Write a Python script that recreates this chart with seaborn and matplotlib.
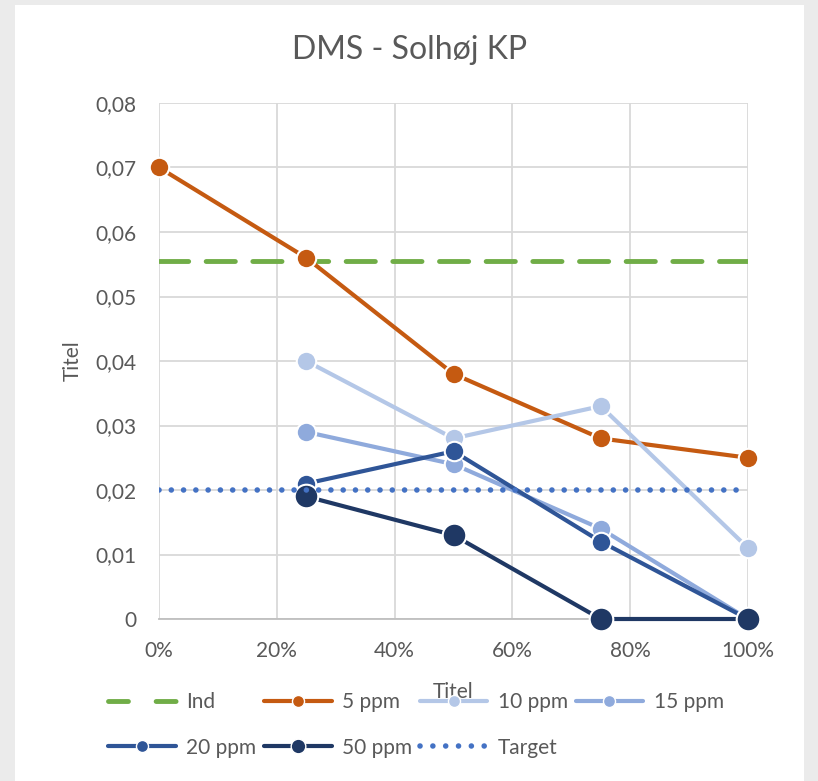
import matplotlib
matplotlib.use("Agg")
import matplotlib.pyplot as plt
from matplotlib.lines import Line2D
from matplotlib.patches import Rectangle
from matplotlib.ticker import FuncFormatter, MultipleLocator
import seaborn as sns
import pandas as pd

# ---- data ----
x_all = [0.0, 0.25, 0.5, 0.75, 1.0]
x_sub = [0.25, 0.5, 0.75, 1.0]
ind_value = 0.0555
target_value = 0.02
s5 = [0.070, 0.056, 0.038, 0.028, 0.025]
s10 = [0.040, 0.028, 0.033, 0.011]
s15 = [0.029, 0.024, 0.014, 0.000]
s20 = [0.021, 0.026, 0.012, 0.000]
s50 = [0.019, 0.013, 0.000, 0.000]
title = "DMS - Solhøj KP"
x_label = "Titel"
y_label = "Titel"

sns.set_theme(style="white")
plt.rcParams['font.family'] = ['Lato', 'DejaVu Sans']
txt = "#595959"

fig = plt.figure(figsize=(8.18, 7.81), dpi=100, facecolor="#ebebeb")
fig.patches.append(Rectangle((15 / 818, 0), (804 - 15) / 818, (781 - 5) / 781,
                             transform=fig.transFigure, facecolor="white",
                             edgecolor="none", zorder=-10))
ax = fig.add_axes([159 / 818, 1 - 619 / 781, (748 - 159) / 818, (619 - 103) / 781])
ax.set_zorder(2)
ax.set_facecolor("white")

series = [
    ("5 ppm", x_all, s5, "#C55A11", 14),
    ("10 ppm", x_sub, s10, "#B4C7E7", 14),
    ("15 ppm", x_sub, s15, "#8FAADC", 14),
    ("20 ppm", x_sub, s20, "#2F5597", 14),
    ("50 ppm", x_sub, s50, "#1F3864", 17),
]

ind_df = pd.DataFrame({"x": x_all, "y": [ind_value] * len(x_all)})
tgt_df = pd.DataFrame({"x": x_all, "y": [target_value] * len(x_all)})

sns.lineplot(data=ind_df, x="x", y="y", ax=ax, color="#70AD47", lw=3.5,
             zorder=3)
ax.lines[-1].set_dashes((6, 3.6))
ax.lines[-1].set_dash_capstyle("round")

handles = {}
handles["Ind"] = Line2D([], [], color="#70AD47", lw=3.5, dashes=(4.1, 5.7),
                        dash_capstyle="round")
z = 4
for name, xs, ys, col, ms in series:
    df = pd.DataFrame({"x": xs, "y": ys})
    sns.lineplot(data=df, x="x", y="y", ax=ax, color=col, lw=3, marker="o",
                 markersize=ms, markeredgecolor="white", markeredgewidth=1.5,
                 zorder=z, clip_on=False)
    z += 1
    handles[name] = Line2D([], [], color=col, lw=3, marker="o",
                           markersize=ms * 0.62, markeredgecolor="white",
                           markeredgewidth=1, solid_capstyle="round")

sns.lineplot(data=tgt_df, x="x", y="y", ax=ax, color="#4472C4", lw=4, zorder=z)
ax.lines[-1].set_dashes((0.01, 2.2))
ax.lines[-1].set_dash_capstyle("round")
handles["Target"] = Line2D([], [], color="#4472C4", lw=4, dashes=(0.01, 2.3),
                           dash_capstyle="round")

ax.set_xlim(0, 1)
ax.set_ylim(0, 0.08)
ax.xaxis.set_major_locator(MultipleLocator(0.2))
ax.yaxis.set_major_locator(MultipleLocator(0.01))
ax.xaxis.set_major_formatter(FuncFormatter(lambda v, p: f"{round(v * 100)}%"))
ax.yaxis.set_major_formatter(FuncFormatter(
    lambda v, p: "0" if abs(v) < 1e-9 else f"{v:.2f}".replace(".", ",")))
ax.grid(True, color="#d9d9d9", lw=1.3)
ax.set_axisbelow(True)
for s in ["top", "right", "left"]:
    ax.spines[s].set_visible(False)
ax.spines["bottom"].set_color("#bfbfbf")
ax.spines["bottom"].set_linewidth(1.3)
ax.tick_params(axis="both", length=0, labelsize=15, labelcolor=txt)
ax.tick_params(axis="y", pad=16)
ax.tick_params(axis="x", pad=16)

ax.set_xlabel(x_label, fontsize=15, color=txt, labelpad=15)
ax.set_ylabel(y_label, fontsize=15, color=txt, labelpad=9)
fig.text(410 / 818, 1 - 50 / 781, title, fontsize=23, color=txt,
         ha="center", va="center")

order = ["Ind", "20 ppm", "5 ppm", "50 ppm", "10 ppm", "Target", "15 ppm"]
leg = fig.legend([handles[k] for k in order], order, ncol=4,
                 loc="center", bbox_to_anchor=(416 / 818, 1 - 725 / 781),
                 frameon=False, fontsize=15, handlelength=3.25,
                 handletextpad=0.5, columnspacing=0.36, labelspacing=1.2,
                 numpoints=1)
for t in leg.get_texts():
    t.set_color(txt)

fig.savefig("out.png", dpi=100, facecolor=fig.get_facecolor())
